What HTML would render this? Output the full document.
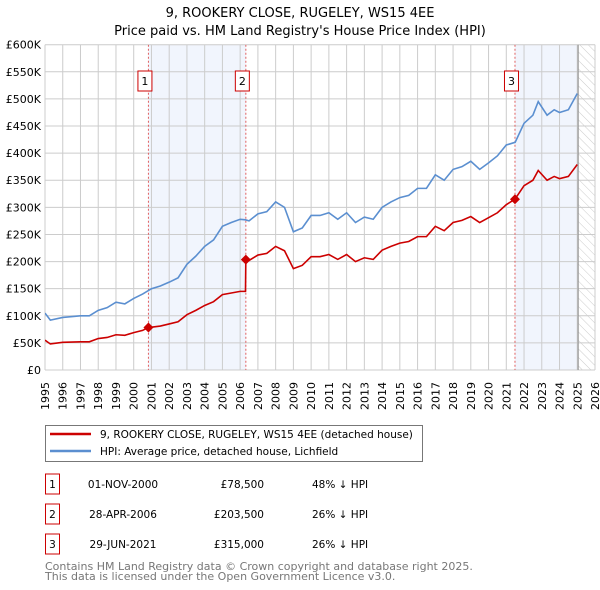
<!DOCTYPE html>
<html><head><meta charset="utf-8"><style>
body{margin:0;background:#fff;}
svg{display:block;font-family:"DejaVu Sans","Liberation Sans",sans-serif;}
</style></head><body>
<svg id="chart" width="600" height="590" viewBox="0 0 600 590">
<text x="300" y="17" text-anchor="middle" font-size="13">9, ROOKERY CLOSE, RUGELEY, WS15 4EE</text>
<text x="300" y="35" text-anchor="middle" font-size="13">Price paid vs. HM Land Registry's House Price Index (HPI)</text>
<defs><pattern id="hatch" width="6" height="6" patternUnits="userSpaceOnUse" patternTransform="rotate(-45)"><line x1="0" y1="0" x2="0" y2="6" stroke="#ccc" stroke-width="1"/></pattern>
<clipPath id="clip"><rect x="45" y="44.7" width="550" height="325.3"/></clipPath></defs>
<g id="bg"></g>
<g id="grid"></g>
<g id="marks" clip-path="url(#clip)"></g>
<g id="axes"></g>
<g>
<rect x="45.5" y="425.5" width="377" height="36" fill="#fff" stroke="#777"/>
<line x1="50" y1="434" x2="91" y2="434" stroke="#cc0000" stroke-width="2.5"/>
<text x="100" y="438" font-size="10.5">9, ROOKERY CLOSE, RUGELEY, WS15 4EE (detached house)</text>
<line x1="50" y1="451" x2="91" y2="451" stroke="#5b8fd0" stroke-width="2.5"/>
<text x="100" y="455" font-size="10.5">HPI: Average price, detached house, Lichfield</text>
</g>
<g id="table" font-size="10.5"></g>
<text x="45" y="570" font-size="11" fill="#777">Contains HM Land Registry data © Crown copyright and database right 2025.</text>
<text x="45" y="580" font-size="11" fill="#777">This data is licensed under the Open Government Licence v3.0.</text>
</svg>
<script>
const hpiDates=[1995,1995.3,1996,1997,1997.5,1998,1998.5,1999,1999.5,2000,2000.5,2001,2001.5,2002,2002.5,2003,2003.5,2004,2004.5,2005,2005.5,2006,2006.3,2006.5,2007,2007.5,2008,2008.5,2009,2009.5,2010,2010.5,2011,2011.5,2012,2012.5,2013,2013.5,2014,2014.5,2015,2015.5,2016,2016.5,2017,2017.5,2018,2018.5,2019,2019.5,2020,2020.5,2021,2021.5,2022,2022.5,2022.8,2023.3,2023.7,2024,2024.5,2025];
const hpiValues=[105,92,97,100,100,110,115,125,122,132,140,150,155,162,170,195,210,228,240,265,272,278,277,275,288,292,310,300,255,262,285,285,290,278,290,272,282,278,300,310,318,322,335,335,360,350,370,375,385,370,382,395,415,420,455,470,495,470,480,475,480,510];
const priceDates=[1995,1995.3,1996,1997,1997.5,1998,1998.5,1999,1999.5,2000,2000.5,2000.83,2001,2001.5,2002,2002.5,2003,2003.5,2004,2004.5,2005,2005.5,2006,2006.3,2006.32,2006.5,2007,2007.5,2008,2008.5,2009,2009.5,2010,2010.5,2011,2011.5,2012,2012.5,2013,2013.5,2014,2014.5,2015,2015.5,2016,2016.5,2017,2017.5,2018,2018.5,2019,2019.5,2020,2020.5,2021,2021.49,2022,2022.5,2022.8,2023.3,2023.7,2024,2024.5,2025];
const priceValues=[55,48,51,52,52,58,60,65,64,69,73,78.5,79,81,85,89,102,110,119,126,139,142,145,145,203.5,202,212,215,228,220,187,193,209,209,213,204,213,200,207,204,221,228,234,237,246,246,265,257,272,276,283,272,281,290,305,315,340,350,368,350,357,353,357,379];
const saleDates=[2000.83,2006.32,2021.49];
const salePrices=[78.5,203.5,315];
const saleLabels=["1","2","3"];
const saleDateText=["01-NOV-2000","28-APR-2006","29-JUN-2021"];
const salePriceText=["£78,500","£203,500","£315,000"];
const saleHpiText=["48% ↓ HPI","26% ↓ HPI","26% ↓ HPI"];
const yTicks=[0,50,100,150,200,250,300,350,400,450,500,550,600];
const yTickLabels=["£0","£50K","£100K","£150K","£200K","£250K","£300K","£350K","£400K","£450K","£500K","£550K","£600K"];
const xStart=1995,xEnd=2026,dataEnd=2025.05;

const L=45,R=595,T=44.7,B=370;
const X=v=>L+(v-xStart)/(xEnd-xStart)*(R-L);
const Y=v=>B-v/600*(B-T);
const NS="http://www.w3.org/2000/svg";
function mk(parent,tag,attrs){const e=document.createElementNS(NS,tag);for(const k in attrs)e.setAttribute(k,attrs[k]);document.getElementById(parent).appendChild(e);return e;}

let e;
e=mk('bg','rect',{x:X(saleDates[0]),y:T,width:X(saleDates[1])-X(saleDates[0]),height:B-T,fill:'#eef3fc',opacity:0.8});


e=mk('bg','rect',{x:X(saleDates[2]),y:T,width:X(dataEnd)-X(saleDates[2]),height:B-T,fill:'#eef3fc',opacity:0.8});


e=mk('bg','rect',{x:X(dataEnd),y:T,width:R-X(dataEnd),height:B-T,fill:'url(#hatch)'});



for(let yr=xStart;yr<=xEnd;yr++){
 e=mk('grid','line',{x1:X(yr),x2:X(yr),y1:T,y2:B,stroke:'#ccc','stroke-width':1});
 
 
 e=mk('axes','text',{x:0,y:0,'font-size':11,'text-anchor':'end',transform:`translate(${X(yr)+4},382) rotate(-90)`});
 e.textContent=String(yr);
 
 
}
yTicks.forEach((t,i)=>{
 e=mk('grid','line',{x1:L,x2:R,y1:Y(t),y2:Y(t),stroke:'#ccc','stroke-width':1});
 
 
 e=mk('axes','text',{x:L-4,y:Y(t)+4,'font-size':11,'text-anchor':'end'});
 e.textContent=yTickLabels[i];
 
 
});
e=mk('grid','line',{x1:X(dataEnd),x2:X(dataEnd),y1:T,y2:B,stroke:'#999','stroke-width':1.2});



saleDates.forEach((d,i)=>{
 e=mk('marks','line',{x1:X(d),x2:X(d),y1:T,y2:B,stroke:'#e06060','stroke-width':1,'stroke-dasharray':'2,2'});
 
 
});
e=mk('marks','polyline',{points:hpiDates.map((d,i)=>X(d)+','+Y(hpiValues[i])).join(' '),fill:'none',stroke:'#5b8fd0','stroke-width':1.6});


e=mk('marks','polyline',{points:priceDates.map((d,i)=>X(d)+','+Y(priceValues[i])).join(' '),fill:'none',stroke:'#cc0000','stroke-width':1.6});


saleDates.forEach((d,i)=>{
 const cx=X(d),cy=Y(salePrices[i]);
 e=mk('axes','polygon',{points:`${cx},${cy-5} ${cx+5},${cy} ${cx},${cy+5} ${cx-5},${cy}`,fill:'#cc0000'});
 
 
 e=mk('axes','rect',{x:cx-10.5,y:71,width:14,height:20,fill:'#fff',stroke:'#cc0000'});
 
 
 e=mk('axes','text',{x:cx-3.5,y:85,'font-size':11,'text-anchor':'middle'});
 e.textContent=saleLabels[i];
 
 
 const ry=474+i*30;
 e=mk('table','rect',{x:45.5,y:ry,width:14,height:20,fill:'#fff',stroke:'#cc0000'});
 
 
 e=mk('table','text',{x:52.5,y:ry+14,'text-anchor':'middle'});
 e.textContent=saleLabels[i];
 
 
 e=mk('table','text',{x:123,y:ry+14,'text-anchor':'middle'});
 e.textContent=saleDateText[i];
 
 
 e=mk('table','text',{x:264,y:ry+14,'text-anchor':'end'});
 e.textContent=salePriceText[i];
 
 
 e=mk('table','text',{x:312,y:ry+14});
 e.textContent=saleHpiText[i];
 
 
});
</script>
</body></html>
